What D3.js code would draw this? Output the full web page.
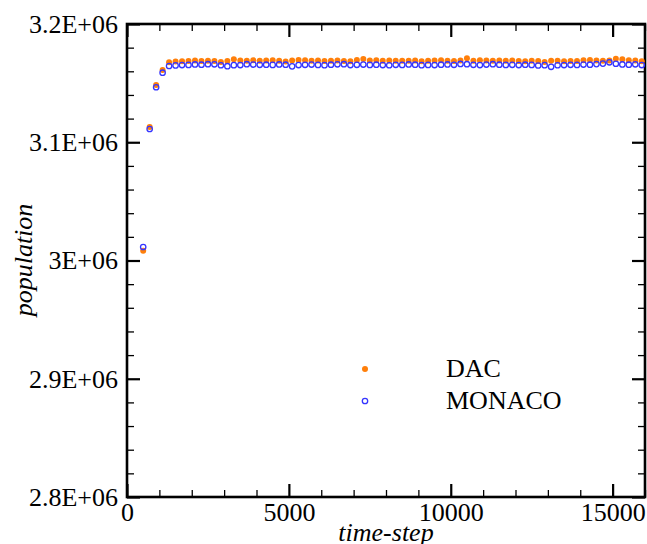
<!DOCTYPE html>
<html lang="en">
<head>
<meta charset="UTF-8">
<script src="https://d3js.org/d3.v7.min.js"></script>
<style>
  body { margin: 0; background: #fff; }
  text { font-family: "Liberation Serif", "Times New Roman", serif; }
</style>
</head>
<body>
<div id="chart"></div>
<script>
// time-step of each sample
var steps = [500, 700, 900, 1100, 1300, 1500, 1700, 1900, 2100, 2300,
  2500, 2700, 2900, 3100, 3300, 3500, 3700, 3900, 4100, 4300,
  4500, 4700, 4900, 5100, 5300, 5500, 5700, 5900, 6100, 6300,
  6500, 6700, 6900, 7100, 7300, 7500, 7700, 7900, 8100, 8300,
  8500, 8700, 8900, 9100, 9300, 9500, 9700, 9900, 10100, 10300,
  10500, 10700, 10900, 11100, 11300, 11500, 11700, 11900, 12100, 12300,
  12500, 12700, 12900, 13100, 13300, 13500, 13700, 13900, 14100, 14300,
  14500, 14700, 14900, 15100, 15300, 15500, 15700, 15900];

var dac = [3008300, 3112900, 3148400, 3161100, 3167600, 3168300, 3168600, 3168700, 3169100, 3168800,
  3168900, 3168700, 3167800, 3168800, 3170200, 3169200, 3169000, 3169300, 3168900, 3169100,
  3169300, 3169000, 3168300, 3169200, 3169500, 3169300, 3168900, 3169100, 3168800, 3169000,
  3169200, 3168700, 3168400, 3169600, 3170300, 3169200, 3169400, 3169000, 3169100, 3168900,
  3169000, 3168900, 3169200, 3168500, 3168900, 3169100, 3169300, 3169000, 3168700, 3169100,
  3171000, 3169000, 3169400, 3169200, 3168900, 3169100, 3169000, 3169200, 3168800, 3168500,
  3169000, 3168800, 3167800, 3169000, 3168900, 3168400, 3168800, 3168700, 3169300, 3169500,
  3169100, 3168900, 3169200, 3170600, 3170100, 3169300, 3169100, 3168600];

var monaco = [3011400, 3111200, 3146500, 3158800, 3164500, 3165000, 3165300, 3165400, 3165800, 3165600,
  3166000, 3165900, 3165100, 3164300, 3165200, 3165300, 3166000, 3165700, 3165500, 3165600,
  3165400, 3165800, 3165600, 3164200, 3165300, 3165500, 3165700, 3165400, 3165200, 3165600,
  3165900, 3166000, 3165300, 3165500, 3165700, 3165400, 3165600, 3165300, 3165100, 3165500,
  3165400, 3165800, 3165600, 3165200, 3165400, 3165300, 3165600, 3165800, 3165500, 3166200,
  3166000, 3165500, 3165300, 3165700, 3166000, 3165600, 3165400, 3165500, 3165300, 3165600,
  3165400, 3164900, 3165200, 3163800, 3165100, 3165300, 3165500, 3165400, 3165700, 3165600,
  3166100, 3166500, 3167600, 3166400, 3165800, 3165600, 3165900, 3165300];

var xTicks = [0, 5000, 10000, 15000];
var yTicks = [2.8e6, 2.9e6, 3.0e6, 3.1e6, 3.2e6];
var yTickLabels = ["2.8E+06", "2.9E+06", "3E+06", "3.1E+06", "3.2E+06"];
var seriesNames = ["DAC", "MONACO"];

var width = 647, height = 544;
var plotL = 127, plotR = 645, plotT = 24, plotB = 497;

var svg = d3.select("#chart").append("svg")
  .attr("width", width).attr("height", height);

var x = d3.scaleLinear().domain([0, 16000]).range([plotL, plotR]);
var y = d3.scaleLinear().domain([2.8e6, 3.2e6]).range([plotB, plotT]);

var minorX = d3.range(0, 16001, 1000).filter(function(d) { return d % 5000 != 0; });
var minorY = d3.range(2.8e6, 3.2e6 + 1, 2e4).filter(function(d) { return Math.round(d / 1e4) % 10 != 0; });

// minor ticks on all four sides (inward)
function minor(g) { g.select(".domain").remove(); g.selectAll("line").attr("stroke-width", 1.3); g.selectAll("text").remove(); }
function major(g) { g.selectAll("line").attr("stroke-width", 2.2); }

svg.append("g").attr("transform", "translate(0," + plotB + ")")
  .call(d3.axisBottom(x).tickValues(minorX).tickSize(-7)).call(minor);
svg.append("g").attr("transform", "translate(0," + plotT + ")")
  .call(d3.axisTop(x).tickValues(minorX).tickSize(-7)).call(minor);
svg.append("g").attr("transform", "translate(" + plotL + ",0)")
  .call(d3.axisLeft(y).tickValues(minorY).tickSize(-7)).call(minor);
svg.append("g").attr("transform", "translate(" + plotR + ",0)")
  .call(d3.axisRight(y).tickValues(minorY).tickSize(-7)).call(minor);

// major ticks
var xb = svg.append("g").attr("transform", "translate(0," + plotB + ")")
  .call(d3.axisBottom(x).tickValues(xTicks).tickSize(-13).tickPadding(6).tickFormat(d3.format("d")))
  .call(major);
xb.select(".domain").remove();
xb.selectAll("text").attr("font-size", 26).attr("fill", "#000")
  .attr("font-family", "Liberation Serif");

var xt = svg.append("g").attr("transform", "translate(0," + plotT + ")")
  .call(d3.axisTop(x).tickValues(xTicks).tickSize(-13).tickFormat(""))
  .call(major);
xt.select(".domain").remove();

var yl = svg.append("g").attr("transform", "translate(" + plotL + ",0)")
  .call(d3.axisLeft(y).tickValues(yTicks).tickSize(-13).tickPadding(7)
    .tickFormat(function(d, i) { return yTickLabels[i]; }))
  .call(major);
yl.select(".domain").remove();
yl.selectAll("text").attr("font-size", 26).attr("fill", "#000")
  .attr("font-family", "Liberation Serif").attr("dx", "-2");

var yr = svg.append("g").attr("transform", "translate(" + plotR + ",0)")
  .call(d3.axisRight(y).tickValues(yTicks).tickSize(-13).tickFormat(""))
  .call(major);
yr.select(".domain").remove();

// frame
svg.append("rect").attr("x", plotL).attr("y", plotT)
  .attr("width", plotR - plotL).attr("height", plotB - plotT)
  .attr("fill", "none").attr("stroke", "#000").attr("stroke-width", 2.6);

// data
svg.append("g").selectAll("circle").data(steps).enter().append("circle")
  .attr("cx", function(d) { return x(d); })
  .attr("cy", function(d, i) { return y(dac[i]); })
  .attr("r", 3).attr("fill", "#ff7f0a");

svg.append("g").selectAll("circle").data(steps).enter().append("circle")
  .attr("cx", function(d) { return x(d); })
  .attr("cy", function(d, i) { return y(monaco[i]); })
  .attr("r", 2.7).attr("fill", "none").attr("stroke", "#3535ff").attr("stroke-width", 1.3);

// legend
svg.append("circle").attr("cx", 365).attr("cy", 369).attr("r", 3).attr("fill", "#ff7f0a");
svg.append("circle").attr("cx", 365).attr("cy", 401).attr("r", 2.7)
  .attr("fill", "none").attr("stroke", "#3535ff").attr("stroke-width", 1.3);
svg.append("text").attr("x", 446).attr("y", 377).attr("font-size", 26).text(seriesNames[0]);
svg.append("text").attr("x", 446).attr("y", 409).attr("font-size", 26).text(seriesNames[1]);

// axis titles
svg.append("text").attr("x", 386).attr("y", 541).attr("text-anchor", "middle")
  .attr("font-size", 26).attr("font-style", "italic").text("time-step");
svg.append("text").attr("transform", "translate(32,260) rotate(-90)")
  .attr("text-anchor", "middle").attr("font-size", 26).attr("font-style", "italic")
  .text("population");
</script>
</body>
</html>
